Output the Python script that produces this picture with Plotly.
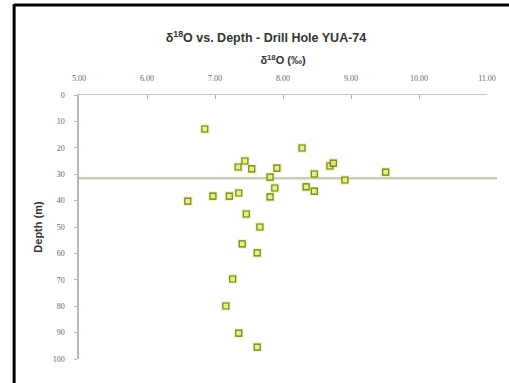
import plotly.graph_objects as go

# Data (delta 18O in permil, depth in m)
d18o = [6.85, 7.34, 7.44, 7.54, 8.28, 7.91, 7.81, 8.69, 8.74, 8.46, 8.91, 9.51,
        6.60, 6.97, 7.21, 7.35, 7.46, 7.66, 7.88, 7.81, 8.34, 8.46,
        7.40, 7.62, 7.26, 7.16, 7.35, 7.62]
depth = [12.9, 27.3, 25.0, 28.0, 20.1, 27.7, 31.1, 26.9, 25.8, 29.9, 32.2, 29.2,
         40.2, 38.3, 38.3, 37.1, 45.1, 50.0, 35.2, 38.6, 34.8, 36.4,
         56.4, 59.8, 69.7, 79.9, 90.2, 95.5]
water_table_depth = 31.5
x_ticks = [5, 6, 7, 8, 9, 10, 11]
x_tick_labels = ["5.00", "6.00", "7.00", "8.00", "9.00", "10.00", "11.00"]
y_ticks = [0, 10, 20, 30, 40, 50, 60, 70, 80, 90, 100]

fig = go.Figure()

# soft glow
fig.add_trace(go.Scatter(
    x=d18o, y=depth, mode="markers", hoverinfo="skip",
    marker=dict(symbol="square", size=10, color="rgba(215,232,70,0.30)",
                line=dict(width=0)),
    showlegend=False))
fig.add_trace(go.Scatter(
    x=d18o, y=depth, mode="markers",
    marker=dict(symbol="square", size=6, color="rgba(228,238,120,0.9)",
                line=dict(color="#6a7222", width=1.1)),
    showlegend=False))

# horizontal reference line
fig.add_shape(type="line", xref="paper", yref="y",
              x0=0, x1=1.025, y0=water_table_depth, y1=water_table_depth,
              line=dict(color="#c9cdb8", width=2.5), layer="below")

# frame lines (left and top visible in the crop)
fig.add_shape(type="line", xref="paper", yref="paper",
              x0=-0.159, x1=-0.159, y0=1.345, y1=-0.2,
              line=dict(color="black", width=3))
fig.add_shape(type="line", xref="paper", yref="paper",
              x0=-0.159, x1=1.1, y0=1.341, y1=1.341,
              line=dict(color="black", width=3))

fig.update_layout(
    width=509, height=383,
    margin=dict(l=79, r=22, t=95, b=24, autoexpand=False),
    paper_bgcolor="white", plot_bgcolor="white",
    title=dict(text="δ<sup>18</sup>O vs. Depth - Drill Hole YUA-74",
               x=266 / 509, xanchor="center", xref="container",
               y=1 - 38 / 383, yanchor="middle", yref="container",
               font=dict(family="Liberation Sans", size=12.5, color="#333333",
                         weight="bold")),
    font=dict(family="Liberation Serif", size=8, color="#666666"),
)

fig.update_xaxes(
    side="top", range=[5, 11], tickvals=x_ticks, ticktext=x_tick_labels,
    showgrid=False, zeroline=False, automargin=False,
    showline=True, linecolor="#c8c8c8", linewidth=1,
    ticks="inside", ticklen=4, tickcolor="#b0b0b0",
    ticklabelstandoff=10,
    tickfont=dict(family="Liberation Serif", size=8, color="#666666"),
    title=dict(text="δ<sup>18</sup>O (‰)", standoff=6,
               font=dict(family="Liberation Sans", size=11, color="#333333",
                         weight="bold")),
)
fig.update_yaxes(
    range=[100, 0], tickvals=y_ticks,
    showgrid=False, zeroline=False, automargin=False,
    showline=True, linecolor="#b8b8b8", linewidth=1.5,
    ticks="outside", ticklen=3, tickcolor="#b8b8b8",
    ticklabelstandoff=8,
    tickfont=dict(family="Liberation Serif", size=8, color="#666666"),
    title=dict(text="Depth (m)", standoff=8,
               font=dict(family="Liberation Sans", size=11, color="#333333",
                         weight="bold")),
)

fig.write_html("out.html", config={"displayModeBar": False},
               post_script="document.body.style.margin='0';")
